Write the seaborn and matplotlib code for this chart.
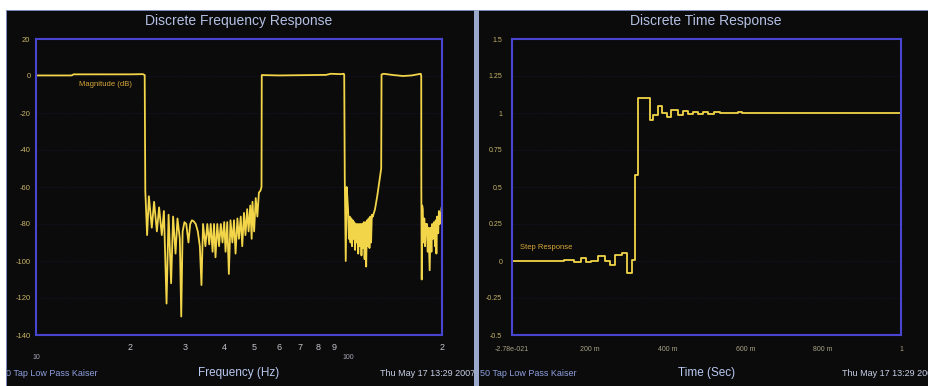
import matplotlib
matplotlib.use('Agg')
import matplotlib.pyplot as plt
from matplotlib.patches import Rectangle
import pandas as pd
import seaborn as sns

# frequency response (Hz / dB)
pass1_hz = [10.0, 13.0, 13.2, 20.0, 22.0, 22.3]
pass1_db = [0.3, 0.3, 0.9, 0.9, 1.0, 0.5]

stop1_hz = [22.4, 22.7, 23.0, 23.5, 23.9, 24.4, 24.8, 25.3, 25.7, 26.2, 26.6, 27.1, 27.5,
            28.0, 28.4, 28.9, 29.2, 29.5, 29.9, 30.3, 30.8, 31.2, 31.6, 32.0, 32.5, 33.0,
            33.5, 33.9, 34.3, 34.9, 35.4, 35.9, 36.3, 36.8, 37.2, 37.6, 38.1, 38.6, 39.1,
            39.6, 40.1, 40.5, 41.0, 41.5, 42.0, 42.6, 43.1, 43.6, 44.2, 44.7, 45.3, 45.8,
            46.4, 46.9, 47.5, 48.0, 48.6, 49.1, 49.4, 50.0, 50.6, 51.2, 51.8, 52.4]
stop1_db = [-62, -86, -65, -82, -68, -84, -71, -86, -73, -123, -75, -112, -76,
            -96, -77, -88, -130, -84, -79, -80, -90, -80, -78, -78.5, -80, -84,
            -92, -113, -80, -92, -80, -91, -80, -95, -80, -98, -80, -92, -80,
            -90, -79, -95, -79, -107, -78, -90, -78, -96, -77, -88, -76, -92,
            -74, -86, -72, -84, -70, -88, -68, -84, -66, -76, -63, -62]

pass2_hz = [52.8, 52.9, 60.0, 75.0, 85.0, 88.0, 95.0, 96.8, 97.2, 97.6, 98.3, 99.0]
pass2_db = [-60, 0.5, 0.3, 0.5, 0.6, 1.2, 1.0, 1.2, 0.8, -55, -100, -60]

stop2_hz = [100.0, 100.6, 101.2, 101.8, 102.4, 103.0, 103.5, 104.1, 104.7, 105.3, 106.0,
            106.6, 107.2, 107.8, 108.5, 109.1, 109.8, 110.4, 111.0, 111.6, 112.3, 113.0,
            113.7, 114.3, 115.0, 115.7, 116.4, 117.1, 117.8, 118.5, 119.2, 120.0]
stop2_db = [-72, -88, -76, -90, -77, -92, -78, -88, -79, -94, -80,
            -90, -80, -96, -80, -92, -80, -97, -80, -93, -79, -99,
            -79, -103, -78, -92, -77, -93, -76, -90, -75, -76]

pass3_hz = [122.0, 124.0, 126.5, 127.7, 128.0, 130.0, 140.0, 150.0, 160.0, 168.0,
            171.0, 171.6, 171.7, 172.2, 172.8]
pass3_db = [-72, -65, -55, -50, 0.8, 1.2, 0.5, 0.0, 0.3, 1.0,
            1.2, 0.0, -60, -110, -70]

stop3_hz = [173.5, 174.5, 175.5, 176.5, 177.5, 178.2, 179.0, 180.0, 181.0, 182.6, 183.8,
            185.0, 186.0, 187.2, 188.5, 190.0, 191.0, 191.9, 193.0, 194.5, 195.5, 196.6,
            197.5, 198.5, 199.0, 200.0]
stop3_db = [-72, -90, -77, -92, -80, -85, -80, -95, -82, -105, -82,
            -95, -80, -88, -79, -92, -78, -96, -76, -85, -73, -80,
            -74, -76, -72, -70]

# step response (s / amplitude), sample-and-hold
step_t = [0.0, 0.134, 0.159, 0.177, 0.189, 0.202, 0.222, 0.239, 0.252, 0.265, 0.282,
          0.295, 0.308, 0.316, 0.325, 0.355, 0.363, 0.376, 0.385, 0.398, 0.41, 0.428,
          0.44, 0.452, 0.465, 0.478, 0.49, 0.505, 0.52, 0.535, 0.58, 0.59, 1.0]
step_v = [0.0, 0.01, -0.005, 0.02, -0.01, 0.0, 0.034, 0.0, -0.03, 0.04, 0.056,
          -0.083, 0.007, 0.58, 1.1, 0.95, 0.986, 1.05, 1.0, 0.97, 1.02, 0.985,
          1.015, 0.99, 1.01, 0.993, 1.008, 0.996, 1.005, 1.0, 1.01, 1.0, 1.0]

db_ticks = [20, 0, -20, -40, -60, -80, -100, -120, -140]
hz_major = [10, 100]
hz_minor = [20, 30, 40, 50, 60, 70, 80, 90, 200]
hz_minor_labels = ['2', '3', '4', '5', '6', '7', '8', '9', '2']
amp_ticks = [1.5, 1.25, 1.0, 0.75, 0.5, 0.25, 0.0, -0.25, -0.5]
amp_labels = ['1.5', '1.25', '1', '0.75', '0.5', '0.25', '0', '-0.25', '-0.5']
time_ticks = [0.0, 0.2, 0.4, 0.6, 0.8, 1.0]
time_labels = ['-2.78e-021', '200 m', '400 m', '600 m', '800 m', '1']

BG = '#0b0b0b'
TRACE = '#f2d548'
FRAME = '#4846d0'

sns.set_theme(style='dark', rc={'axes.facecolor': BG, 'figure.facecolor': 'white'})
plt.rcParams['font.family'] = ['Liberation Sans', 'DejaVu Sans']

W, H = 929, 386


def box(x0, y0, x1, y1):
    return [x0 / W, 1 - y1 / H, (x1 - x0) / W, (y1 - y0) / H]


fig = plt.figure(figsize=(W / 100, H / 100), dpi=100)

# screen background, borders, divider
fig.add_artist(Rectangle((7 / W, 0), 1 - 7 / W, 1 - 10 / H, transform=fig.transFigure,
                         facecolor=BG, edgecolor='none', zorder=-5))
fig.add_artist(Rectangle((6 / W, 1 - 11 / H), 1, 1.2 / H, transform=fig.transFigure,
                         facecolor='#7888b8', edgecolor='none', zorder=-4))
fig.add_artist(Rectangle((6 / W, 0), 1.5 / W, 1 - 10 / H, transform=fig.transFigure,
                         facecolor='#7888b8', edgecolor='none', zorder=4))
fig.add_artist(Rectangle((474 / W, 0), 5 / W, 1 - 10 / H, transform=fig.transFigure,
                         facecolor='#9aa8cc', edgecolor='none', zorder=4))
fig.add_artist(Rectangle((0, 0), 6 / W, 1, transform=fig.transFigure,
                         facecolor='white', edgecolor='none', zorder=4))

ax1 = fig.add_axes(box(36, 39, 442, 335))
ax2 = fig.add_axes(box(512, 39, 901, 335))

freq = pd.DataFrame({
    'hz': pass1_hz + stop1_hz + pass2_hz + stop2_hz + pass3_hz + stop3_hz,
    'db': pass1_db + stop1_db + pass2_db + stop2_db + pass3_db + stop3_db,
})
step = pd.DataFrame({'t': step_t, 'v': step_v})

sns.lineplot(data=freq, x='hz', y='db', sort=False, estimator=None, ax=ax1,
             color=TRACE, linewidth=1.3)
sns.lineplot(data=step, x='t', y='v', sort=False, estimator=None, ax=ax2,
             color=TRACE, linewidth=1.3, drawstyle='steps-post')

ax1.set_xscale('log')
ax1.set_xlim(10, 200)
ax1.set_ylim(-140, 20)
ax1.set_xticks(hz_major, labels=['10', '100'])
ax1.set_xticks(hz_minor, labels=hz_minor_labels, minor=True)
ax1.set_yticks(db_ticks, labels=[str(v) for v in db_ticks])
ax1.tick_params(axis='x', which='major', length=0, pad=14, labelsize=5, labelcolor='#a8a8b8')
ax1.tick_params(axis='x', which='minor', length=0, pad=6, labelsize=6.5, labelcolor='#c4c4cc')
ax1.tick_params(axis='y', length=0, pad=4, labelsize=5.5, labelcolor='#c8b468')

ax2.set_xlim(0, 1)
ax2.set_ylim(-0.5, 1.5)
ax2.set_xticks(time_ticks, labels=time_labels)
ax2.set_yticks(amp_ticks, labels=amp_labels)
ax2.tick_params(axis='x', length=0, pad=8, labelsize=5, labelcolor='#aaa488')
ax2.tick_params(axis='y', length=0, pad=7, labelsize=5, labelcolor='#c8b468')

for ax in (ax1, ax2):
    ax.set_facecolor(BG)
    ax.set_xlabel('')
    ax.set_ylabel('')
    ax.grid(False)
    # the scope's grid is barely visible in the capture
    ax.yaxis.grid(True, color='#15152e', linestyle=':', linewidth=0.8)
    for s in ax.spines.values():
        s.set_visible(True)
        s.set_color(FRAME)
        s.set_linewidth(1.5)

ax1.text(43 / 406, 1 - (85 - 39) / 296, 'Magnitude (dB)', transform=ax1.transAxes,
         fontsize=5.5, color='#d8a838', va='center')
ax2.text(8 / 389, 1 - (248 - 39) / 296, 'Step Response', transform=ax2.transAxes,
         fontsize=5.5, color='#d8a838', va='center')

# panel titles and footers
title_kw = dict(ha='center', va='center', fontsize=10, color='#b4c0e4')
fig.text(239 / W, 1 - 21 / H, 'Discrete Frequency Response', **title_kw)
fig.text(706 / W, 1 - 21 / H, 'Discrete Time Response', **title_kw)

foot_kw = dict(va='center', fontsize=6.5)
fig.text(239 / W, 1 - 373 / H, 'Frequency (Hz)', ha='center', fontsize=8.5,
         va='center', color='#b8c8f0')
fig.text(707 / W, 1 - 373 / H, 'Time (Sec)', ha='center', fontsize=8.5,
         va='center', color='#b8c8f0')
fig.text(1 / W, 1 - 374 / H, '50 Tap Low Pass Kaiser', color='#8fa0e0', **foot_kw)
fig.text(480 / W, 1 - 374 / H, '50 Tap Low Pass Kaiser', color='#8fa0e0', **foot_kw)
fig.text(380 / W, 1 - 374 / H, 'Thu May 17 13:29 2007', color='#c8d0e8', **foot_kw)
fig.text(842 / W, 1 - 374 / H, 'Thu May 17 13:29 2007', color='#c8d0e8', **foot_kw)

fig.savefig('out.png', dpi=100)
